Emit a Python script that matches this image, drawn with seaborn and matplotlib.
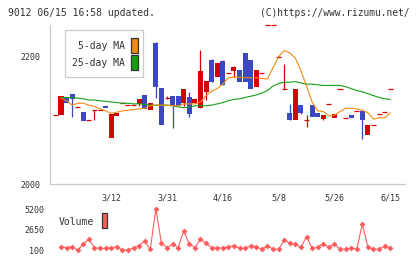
import numpy as np
import pandas as pd
import matplotlib
matplotlib.use("Agg")
import matplotlib.pyplot as plt
from matplotlib.patches import Rectangle
import seaborn as sns

# candle data, position -1 is the lone dash at the left edge (no volume)
cpos = list(range(-1, 60))
opens = [2108, 2108, 2135, 2142, 2121, 2113, 2101, 2117, 2116, 2123, 2073,
         2107, 2127, 2124, 2124, 2126, 2140, 2117, 2222, 2151, 2136,
         2138, 2139, 2128, 2137, 2127, 2119, 2144, 2195, 2169, 2194,
         2174, 2178, 2180, 2206, 2195, 2152, 2174, 2250, 2250, 2200,
         2149, 2111, 2100, 2124, 2101, 2124, 2112, 2102, 2126, 2104,
         2150, 2103, 2109, 2114, 2115, 2077, 2092, 2110, 2113, 2149]
closes = [2108, 2138, 2128, 2133, 2121, 2099, 2101, 2117, 2116, 2119, 2110,
          2112, 2127, 2124, 2124, 2134, 2118, 2127, 2152, 2092, 2136,
          2122, 2122, 2150, 2110, 2134, 2178, 2162, 2161, 2191, 2155,
          2174, 2184, 2160, 2160, 2150, 2180, 2174, 2250, 2250, 2200,
          2149, 2100, 2150, 2112, 2101, 2105, 2105, 2109, 2126, 2110,
          2150, 2103, 2104, 2114, 2100, 2093, 2092, 2110, 2113, 2149]
highs = [2108, 2138, 2135, 2142, 2121, 2113, 2101, 2117, 2116, 2123, 2110,
         2112, 2127, 2124, 2124, 2134, 2140, 2127, 2223, 2151, 2138,
         2138, 2139, 2150, 2144, 2134, 2211, 2162, 2196, 2191, 2195,
         2174, 2186, 2180, 2206, 2195, 2180, 2174, 2250, 2250, 2202,
         2189, 2126, 2150, 2124, 2108, 2124, 2112, 2109, 2126, 2110,
         2150, 2103, 2109, 2114, 2115, 2093, 2092, 2110, 2113, 2149]
lows = [2108, 2108, 2128, 2105, 2121, 2099, 2101, 2101, 2116, 2119, 2073,
        2107, 2127, 2124, 2124, 2123, 2118, 2117, 2135, 2092, 2134,
        2088, 2122, 2122, 2106, 2127, 2119, 2132, 2161, 2169, 2155,
        2174, 2169, 2160, 2160, 2150, 2152, 2174, 2250, 2250, 2200,
        2149, 2100, 2100, 2110, 2090, 2105, 2105, 2100, 2126, 2104,
        2150, 2103, 2104, 2114, 2071, 2077, 2092, 2110, 2113, 2149]

ma5 = [2135, 2131, 2124, 2127, 2127, 2124, 2122, 2118, 2115, 2111,
       2113, 2115, 2116, 2117, 2118, 2119, 2123, 2124, 2124, 2124,
       2123, 2123, 2126, 2126, 2126, 2129, 2139, 2146, 2150, 2157,
       2167, 2168, 2168, 2167, 2167, 2167, 2166, 2165, 2183, 2200,
       2210, 2206, 2198, 2178, 2154, 2129, 2115, 2114, 2107, 2108,
       2114, 2119, 2119, 2118, 2116, 2112, 2102, 2104, 2104, 2112]
ma25 = [2136, 2136, 2136, 2135, 2134, 2132, 2132, 2131, 2130, 2129,
        2128, 2127, 2127, 2126, 2126, 2125, 2124, 2124, 2124, 2124,
        2123, 2121, 2120, 2121, 2123, 2123, 2123, 2124, 2126, 2128,
        2131, 2133, 2134, 2136, 2138, 2140, 2143, 2147, 2154, 2158,
        2160, 2160, 2161, 2159, 2157, 2157, 2156, 2155, 2155, 2155,
        2155, 2153, 2150, 2147, 2145, 2142, 2139, 2136, 2134, 2133]
volume = [510, 390, 510, 100, 810, 1470, 390, 310, 310, 390,
          510, 100, 100, 390, 640, 1220, 190, 5200, 930, 390,
          810, 390, 2500, 810, 390, 1430, 930, 390, 310, 390,
          510, 640, 310, 310, 640, 510, 190, 640, 190, 190,
          1340, 930, 810, 440, 1760, 310, 440, 850, 440, 850,
          190, 190, 390, 190, 3330, 440, 190, 190, 600, 390]

date_pos = [9, 19, 29, 39, 49, 59]
date_labels = ["3/12", "3/31", "4/16", "5/8", "5/26", "6/15"]
vol_ticks = [100, 2650, 5200]

df = pd.DataFrame({"pos": range(60), "ma5": ma5, "ma25": ma25, "volume": volume})

RED = "#d60000"
BLUE = "#3d47bf"
ORANGE = "#f08c10"
GREEN = "#14a014"
VOLC = "#ff5c5c"
TXT = "#333333"
GRAY = "#cccccc"
MONO = "DejaVu Sans Mono"

sns.set_style("white")
plt.rcParams["font.family"] = MONO

W, H = 420, 259
fig = plt.figure(figsize=(W / 100, H / 100), dpi=100)

def fx(x):
    return x / W

def fy(y):
    return 1 - y / H

# header
fig.text(fx(8), fy(12.5), "9012 06/15 16:58 updated.", ha="left", va="center",
         fontsize=7, color=TXT)
fig.text(fx(409), fy(12.5), "(C)https://www.rizumu.net/", ha="right", va="center",
         fontsize=6.9, color=TXT)

xmin, xmax = -1.97, 61.65
ax = fig.add_axes([fx(50), fy(184), 355 / W, 159 / H])
axv = fig.add_axes([fx(50), fy(253), 355 / W, 48 / H])

# candles
for p, o, c, h, l in zip(cpos, opens, closes, highs, lows):
    col = BLUE if c < o else RED
    if h > max(o, c) or l < min(o, c):
        ax.vlines(p, l, h, color=col, linewidth=0.9, clip_on=False)
    if o == c:
        ax.hlines(o, p - 0.45, p + 0.45, color=col, linewidth=0.9, clip_on=False)
    else:
        ax.bar(p, abs(c - o), bottom=min(o, c), width=0.9, color=col,
               linewidth=0, clip_on=False)

sns.lineplot(data=df, x="pos", y="ma25", ax=ax, color=GREEN, linewidth=0.8)
sns.lineplot(data=df, x="pos", y="ma5", ax=ax, color=ORANGE, linewidth=0.8)

ax.set_xlim(xmin, xmax)
ax.set_ylim(2000, 2250)
ax.set_xlabel("")
ax.set_ylabel("")
ax.set_yticks([2000, 2200])
ax.set_xticks(np.linspace(xmin, xmax, 12))
ax.set_xticklabels([])
ax.tick_params(axis="y", length=3.6, width=0.75, color=GRAY, labelsize=6,
               labelcolor=TXT, pad=3)
ax.tick_params(axis="x", length=4.3, width=0.75, color=GRAY, direction="out")
for s in ["top", "right"]:
    ax.spines[s].set_visible(False)
for s in ["left", "bottom"]:
    ax.spines[s].set_color(GRAY)
    ax.spines[s].set_linewidth(0.9)
ax.patch.set_alpha(0)

for p, lab in zip(date_pos, date_labels):
    ax.text(p, -14 / 159, lab, transform=ax.get_xaxis_transform(),
            ha="center", va="center", fontsize=6, color=TXT)

# volume
sns.lineplot(data=df, x="pos", y="volume", ax=axv, color=VOLC, linewidth=0.8,
             marker="D", markersize=3, markeredgewidth=0)
axv.set_xlim(xmin, xmax)
axv.set_ylim(-273, 5698)
axv.set_xlabel("")
axv.set_ylabel("")
axv.set_xticks([])
axv.set_yticks(vol_ticks)
axv.set_yticklabels([str(v) for v in vol_ticks])
axv.tick_params(axis="y", length=0, labelsize=6, labelcolor=TXT, pad=4.3)
for s in axv.spines.values():
    s.set_visible(False)
axv.patch.set_alpha(0)

# legends
fig.patches.append(Rectangle((fx(65), fy(77)), 78 / W, 47 / H, transform=fig.transFigure,
                             facecolor="white", edgecolor=GRAY, linewidth=0.9))
fig.text(fx(125), fy(46), "5-day MA", ha="right", va="center", fontsize=7, color=TXT)
fig.text(fx(125), fy(63), "25-day MA", ha="right", va="center", fontsize=7, color=TXT)
fig.patches.append(Rectangle((fx(131), fy(52.5)), 6.5 / W, 15 / H, transform=fig.transFigure,
                             facecolor=ORANGE, edgecolor=TXT, linewidth=0.9))
fig.patches.append(Rectangle((fx(131), fy(69.5)), 6.5 / W, 15 / H, transform=fig.transFigure,
                             facecolor=GREEN, edgecolor=TXT, linewidth=0.9))

fig.text(fx(59), fy(222), "Volume", ha="left", va="center", fontsize=7, color=TXT)
fig.patches.append(Rectangle((fx(102), fy(228)), 5.5 / W, 15 / H, transform=fig.transFigure,
                             facecolor=VOLC, edgecolor=TXT, linewidth=0.9))

fig.savefig("out.png", dpi=100)
